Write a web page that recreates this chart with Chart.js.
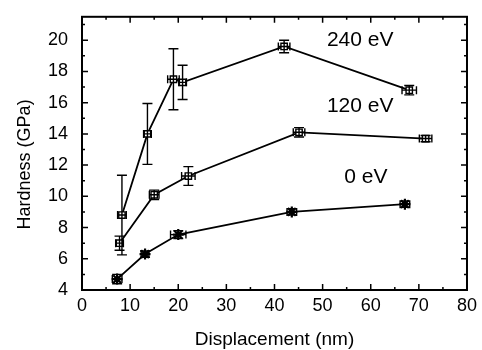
<!DOCTYPE html>
<html>
<head>
<meta charset="utf-8">
<script src="https://cdn.jsdelivr.net/npm/chart.js@4.4.1/dist/chart.umd.min.js"></script>
<style>
  html, body { margin: 0; padding: 0; background: #fff; }
  #wrap { width: 482px; height: 350px; }
</style>
</head>
<body>
<div id="wrap"><canvas id="chart" width="482" height="350"></canvas></div>
<script>
// 240 eV
const x240 = [8.3, 13.6, 19.0, 20.9, 42.0, 68.0];
const y240 = [8.8, 14.0, 17.5, 17.3, 19.6, 16.8];
const ex240 = [0.9, 0.8, 1.2, 0.8, 1.2, 1.5];
const ey240 = [2.55, 1.95, 1.95, 1.1, 0.4, 0.3];

// 120 eV
const x120 = [7.8, 15.0, 22.1, 45.1, 71.4];
const y120 = [7.0, 10.1, 11.3, 14.1, 13.7];
const ex120 = [0.8, 1.0, 1.4, 1.2, 1.3];
const ey120 = [0.45, 0.3, 0.6, 0.3, 0.2];

// 0 eV
const x0 = [7.3, 13.1, 20.0, 43.6, 67.1];
const y0 = [4.7, 6.3, 7.55, 9.0, 9.5];
const ex0 = [1.0, 0.8, 1.6, 1.0, 1.0];
const ey0 = [0.3, 0.2, 0.25, 0.2, 0.2];

const xTicks = [0, 10, 20, 30, 40, 50, 60, 70, 80];
const yTicks = [4, 6, 8, 10, 12, 14, 16, 18, 20];

const seriesNames = ['240 eV', '120 eV', '0 eV'];
const yTitle = 'Hardness (GPa)';

const font = 'Liberation Sans, Arial, sans-serif';

function pts(xs, ys, exs, eys) {
    return xs.map((v, i) => ({ x: v, y: ys[i], ex: exs[i], ey: eys[i] }));
}

// where the series names sit, in data units
const labelAt = [[57.8, 20.0], [57.8, 15.8], [59, 11.2]];

// frame, inward ticks, error bars, series names and y title
const frame = {
    id: 'frame',
    afterDatasetsDraw(chart) {
        const { ctx, chartArea: a, scales: { x, y } } = chart;
        ctx.save();
        ctx.strokeStyle = '#000';
        ctx.lineCap = 'butt';

        // error bars
        ctx.lineWidth = 1.4;
        chart.data.datasets.forEach(ds => {
            ds.data.forEach(p => {
                const px = x.getPixelForValue(p.x);
                const py = y.getPixelForValue(p.y);
                const t = y.getPixelForValue(p.y + p.ey);
                const b = y.getPixelForValue(p.y - p.ey);
                const l = x.getPixelForValue(p.x - p.ex);
                const r = x.getPixelForValue(p.x + p.ex);
                ctx.beginPath();
                ctx.moveTo(px, t); ctx.lineTo(px, b);
                ctx.moveTo(px - 5, t); ctx.lineTo(px + 5, t);
                ctx.moveTo(px - 5, b); ctx.lineTo(px + 5, b);
                ctx.moveTo(l, py); ctx.lineTo(r, py);
                ctx.moveTo(l, py - 4); ctx.lineTo(l, py + 4);
                ctx.moveTo(r, py - 4); ctx.lineTo(r, py + 4);
                ctx.stroke();
            });
        });

        // box
        ctx.lineWidth = 2;
        ctx.strokeRect(a.left, a.top, a.width, a.height);

        // ticks on all four sides
        ctx.lineWidth = 1.5;
        ctx.beginPath();
        for (let v = 0; v <= 80; v += 5) {
            const px = x.getPixelForValue(v);
            const len = v % 10 === 0 ? 6 : 3;
            ctx.moveTo(px, a.bottom); ctx.lineTo(px, a.bottom - len);
            ctx.moveTo(px, a.top); ctx.lineTo(px, a.top + len);
        }
        for (let v = 4; v <= 21; v += 1) {
            const py = y.getPixelForValue(v);
            const len = v % 2 === 0 ? 6 : 3;
            ctx.moveTo(a.left, py); ctx.lineTo(a.left + len, py);
            ctx.moveTo(a.right, py); ctx.lineTo(a.right - len, py);
        }
        ctx.stroke();

        // series names
        ctx.fillStyle = '#000';
        ctx.font = '21px ' + font;
        ctx.textAlign = 'center';
        ctx.textBaseline = 'middle';
        seriesNames.forEach((n, i) => {
            ctx.fillText(n, x.getPixelForValue(labelAt[i][0]), y.getPixelForValue(labelAt[i][1]));
        });

        // y axis title, sits a little below the middle of the axis
        ctx.font = '18px ' + font;
        ctx.translate(25, a.top + a.height / 2 + 11);
        ctx.rotate(-Math.PI / 2);
        ctx.fillText(yTitle, 0, 0);
        ctx.restore();
    }
};

const boxStyle = {
    showLine: true,
    borderColor: '#000',
    borderWidth: 1.8,
    pointStyle: 'rect',
    pointRadius: 4.5,
    pointBackgroundColor: '#fff',
    pointBorderColor: '#000',
    pointBorderWidth: 1.4
};

new Chart(document.querySelector('#chart'), {
    type: 'scatter',
    data: {
        datasets: [
            { label: seriesNames[0], data: pts(x240, y240, ex240, ey240), ...boxStyle },
            { label: seriesNames[1], data: pts(x120, y120, ex120, ey120), ...boxStyle },
            {
                label: seriesNames[2],
                data: pts(x0, y0, ex0, ey0),
                showLine: true,
                borderColor: '#000',
                borderWidth: 1.8,
                pointStyle: 'star',
                pointRadius: 5.5,
                pointBorderColor: '#000',
                pointBorderWidth: 2.2
            }
        ]
    },
    options: {
        responsive: false,
        animation: false,
        layout: { padding: { left: 0, top: 13, right: 15, bottom: 0 } },
        plugins: { legend: { display: false }, tooltip: { enabled: false } },
        scales: {
            x: {
                type: 'linear',
                min: 0,
                max: 80,
                afterBuildTicks: s => { s.ticks = xTicks.map(v => ({ value: v })); },
                afterFit: s => { s.height = 60; },
                grid: { display: false, drawTicks: false },
                border: { display: false },
                ticks: { color: '#000', font: { family: font, size: 18 }, padding: 5, maxRotation: 0 },
                title: {
                    display: true,
                    text: 'Displacement (nm)',
                    color: '#000',
                    font: { family: font, size: 19, lineHeight: 1 },
                    padding: { top: 0, bottom: 1 }
                }
            },
            y: {
                min: 4,
                max: 21.5,
                afterBuildTicks: s => { s.ticks = yTicks.map(v => ({ value: v })); },
                afterFit: s => { s.width = 82; },
                grid: { display: false },
                border: { display: false },
                ticks: { color: '#000', font: { family: font, size: 18 }, padding: 6 }
            }
        }
    },
    plugins: [frame]
});
</script>
</body>
</html>
